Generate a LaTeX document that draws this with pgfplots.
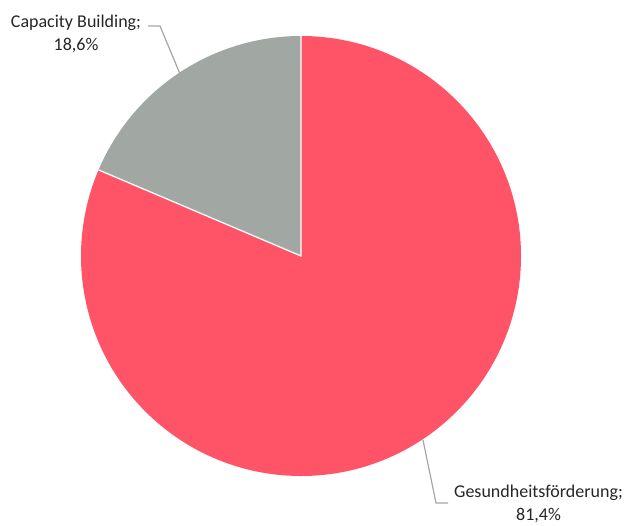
\documentclass[border=0pt]{standalone}
\usepackage{pgfplots}
\pgfplotsset{compat=1.18}
\usepackage{fontspec}
\setmainfont{Carlito}
\definecolor{pred}{HTML}{FF5468}
\definecolor{pgray}{HTML}{A1A8A3}
\definecolor{lead}{HTML}{A6A6A6}
% values (percent)
\def\valGes{81.4}
\def\valCap{18.6}
\pgfmathsetmacro{\angA}{90-\valGes*3.6}
\pgfmathsetmacro{\angB}{\angA-\valCap*3.6}
\begin{document}
\begin{tikzpicture}
\begin{axis}[x=1bp,y=1bp,xmin=-301,xmax=329,ymin=-267,ymax=256,
  hide axis, clip=false]
\path (axis cs:-301,-267) rectangle (axis cs:329,256);
\fill[pred] (axis cs:0,0) -- (axis cs:0,220) arc[start angle=90,end angle=\angA,radius=220bp] -- cycle;
\fill[pgray] (axis cs:0,0) -- (axis cs:{220*cos(\angA)},{220*sin(\angA)}) arc[start angle=\angA,end angle=\angB,radius=220bp] -- cycle;
\draw[white,line width=1.3bp] (axis cs:0,220) -- (axis cs:0,0) -- (axis cs:{220*cos(\angA)},{220*sin(\angA)});
\draw[lead,line width=1.2bp] (axis cs:-153,230) -- (axis cs:-141,230) -- (axis cs:-121,182);
\draw[lead,line width=1.2bp] (axis cs:122,-184) -- (axis cs:135,-247) -- (axis cs:147,-247);
\node[align=center,font=\fontsize{18bp}{23bp}\selectfont,text=black!85] at (axis cs:-225,222.5) {Capacity Building;\\18,6\%};
\node[align=center,font=\fontsize{18bp}{23bp}\selectfont,text=black!85] at (axis cs:237.5,-247.5) {Gesundheitsförderung;\\81,4\%};
\end{axis}
\end{tikzpicture}
\end{document}
